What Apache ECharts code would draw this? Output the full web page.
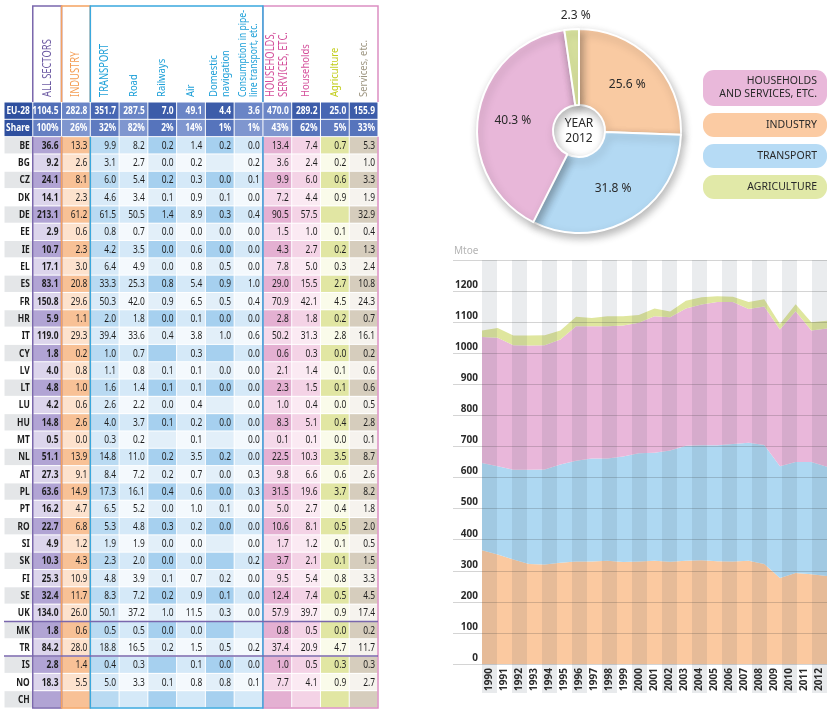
<!DOCTYPE html>
<html><head><meta charset="utf-8">
<script src="https://cdn.jsdelivr.net/npm/echarts@6/dist/echarts.min.js"></script>
<style>html,body{margin:0;padding:0;background:#fff}#c{width:833px;height:713px}</style>
</head><body><div id="c"></div>
<script>
// ---------------- DATA ----------------
const tableHeaders = ['', 'ALL SECTORS', 'INDUSTRY', 'TRANSPORT', 'Road', 'Railways', 'Air', 'Domestic\nnavigation', 'Consumption in pipe-\nline transport, etc.', 'HOUSEHOLDS,\nSERVICES, ETC.', 'Households', 'Agriculture', 'Services, etc.'];
const rowCodes = ['EU-28','Share','BE','BG','CZ','DK','DE','EE','IE','EL','ES','FR','HR','IT','CY','LV','LT','LU','HU','MT','NL','AT','PL','PT','RO','SI','SK','FI','SE','UK','MK','TR','IS','NO','CH'];
const eu28Values = [1104.5, 282.8, 351.7, 287.5, 7.0, 49.1, 4.4, 3.6, 470.0, 289.2, 25.0, 155.9];
const shareValues = [100, 26, 32, 82, 2, 14, 1, 1, 43, 62, 5, 33];
const countryValues = [
  [36.6, 13.3, 9.9, 8.2, 0.2, 1.4, 0.2, 0.0, 13.4, 7.4, 0.7, 5.3],
  [9.2, 2.6, 3.1, 2.7, 0.0, 0.2, null, 0.2, 3.6, 2.4, 0.2, 1.0],
  [24.1, 8.1, 6.0, 5.4, 0.2, 0.3, 0.0, 0.1, 9.9, 6.0, 0.6, 3.3],
  [14.1, 2.3, 4.6, 3.4, 0.1, 0.9, 0.1, 0.0, 7.2, 4.4, 0.9, 1.9],
  [213.1, 61.2, 61.5, 50.5, 1.4, 8.9, 0.3, 0.4, 90.5, 57.5, null, 32.9],
  [2.9, 0.6, 0.8, 0.7, 0.0, 0.0, 0.0, 0.0, 1.5, 1.0, 0.1, 0.4],
  [10.7, 2.3, 4.2, 3.5, 0.0, 0.6, 0.0, 0.0, 4.3, 2.7, 0.2, 1.3],
  [17.1, 3.0, 6.4, 4.9, 0.0, 0.8, 0.5, 0.0, 7.8, 5.0, 0.3, 2.4],
  [83.1, 20.8, 33.3, 25.3, 0.8, 5.4, 0.9, 1.0, 29.0, 15.5, 2.7, 10.8],
  [150.8, 29.6, 50.3, 42.0, 0.9, 6.5, 0.5, 0.4, 70.9, 42.1, 4.5, 24.3],
  [5.9, 1.1, 2.0, 1.8, 0.0, 0.1, 0.0, 0.0, 2.8, 1.8, 0.2, 0.7],
  [119.0, 29.3, 39.4, 33.6, 0.4, 3.8, 1.0, 0.6, 50.2, 31.3, 2.8, 16.1],
  [1.8, 0.2, 1.0, 0.7, null, 0.3, null, 0.0, 0.6, 0.3, 0.0, 0.2],
  [4.0, 0.8, 1.1, 0.8, 0.1, 0.1, 0.0, 0.0, 2.1, 1.4, 0.1, 0.6],
  [4.8, 1.0, 1.6, 1.4, 0.1, 0.1, 0.0, 0.0, 2.3, 1.5, 0.1, 0.6],
  [4.2, 0.6, 2.6, 2.2, 0.0, 0.4, null, 0.0, 1.0, 0.4, 0.0, 0.5],
  [14.8, 2.6, 4.0, 3.7, 0.1, 0.2, 0.0, 0.0, 8.3, 5.1, 0.4, 2.8],
  [0.5, 0.0, 0.3, 0.2, null, 0.1, null, 0.0, 0.1, 0.1, 0.0, 0.1],
  [51.1, 13.9, 14.8, 11.0, 0.2, 3.5, 0.2, 0.0, 22.5, 10.3, 3.5, 8.7],
  [27.3, 9.1, 8.4, 7.2, 0.2, 0.7, 0.0, 0.3, 9.8, 6.6, 0.6, 2.6],
  [63.6, 14.9, 17.3, 16.1, 0.4, 0.6, 0.0, 0.3, 31.5, 19.6, 3.7, 8.2],
  [16.2, 4.7, 6.5, 5.2, 0.0, 1.0, 0.1, 0.0, 5.0, 2.7, 0.4, 1.8],
  [22.7, 6.8, 5.3, 4.8, 0.3, 0.2, 0.0, 0.0, 10.6, 8.1, 0.5, 2.0],
  [4.9, 1.2, 1.9, 1.9, 0.0, 0.0, null, 0.0, 1.7, 1.2, 0.1, 0.5],
  [10.3, 4.3, 2.3, 2.0, 0.0, 0.0, null, 0.2, 3.7, 2.1, 0.1, 1.5],
  [25.3, 10.9, 4.8, 3.9, 0.1, 0.7, 0.2, 0.0, 9.5, 5.4, 0.8, 3.3],
  [32.4, 11.7, 8.3, 7.2, 0.2, 0.9, 0.1, 0.0, 12.4, 7.4, 0.5, 4.5],
  [134.0, 26.0, 50.1, 37.2, 1.0, 11.5, 0.3, 0.0, 57.9, 39.7, 0.9, 17.4],
  [1.8, 0.6, 0.5, 0.5, 0.0, 0.0, null, null, 0.8, 0.5, 0.0, 0.2],
  [84.2, 28.0, 18.8, 16.5, 0.2, 1.5, 0.5, 0.2, 37.4, 20.9, 4.7, 11.7],
  [2.8, 1.4, 0.4, 0.3, null, 0.1, 0.0, 0.0, 1.0, 0.5, 0.3, 0.3],
  [18.3, 5.5, 5.0, 3.3, 0.1, 0.8, 0.8, 0.1, 7.7, 4.1, 0.9, 2.7],
  [null, null, null, null, null, null, null, null, null, null, null, null]
];
const separatorAfter = ['UK', 'TR'];

const pieNames = ['INDUSTRY', 'TRANSPORT', 'HOUSEHOLDS AND SERVICES, ETC.', 'AGRICULTURE'];
const pieValues = [25.6, 31.8, 40.3, 2.3];
const legendNames = ['HOUSEHOLDS\nAND SERVICES, ETC.', 'INDUSTRY', 'TRANSPORT', 'AGRICULTURE'];

const years = [1990,1991,1992,1993,1994,1995,1996,1997,1998,1999,2000,2001,2002,2003,2004,2005,2006,2007,2008,2009,2010,2011,2012];
const industry = [366, 352, 336, 322, 320, 326, 330, 330, 332, 328, 330, 332, 329, 332, 334, 331, 330, 332, 322, 277, 293, 289, 282.8];
const transport = [281, 284, 289, 303, 306, 316, 324, 331, 329, 340, 348, 348, 358, 370, 370, 373, 378, 380, 383, 359, 357, 361, 351.7];
const householdsServices = [405, 414, 401, 400, 400, 402, 433, 426, 426, 421, 420, 439, 429, 442, 453, 461, 457, 430, 445, 440, 485, 423, 445.0];
const agriculture = [21, 31, 31, 32, 32, 29, 30, 26, 32, 30, 25, 25, 18, 25, 23, 18, 17, 23, 24, 18, 23, 27, 25.0];

// ---------------- STYLE ----------------
const SANS = "'Noto Sans','Open Sans',sans-serif";
const colDark  = ['#e4e6e8','#b1a4d4','#f8c196','#b9daf2','#d5e9f8','#a6d0ef','#d5e9f8','#a6d0ef','#d5e9f8','#e4b0d2','#f4d3e6','#e1e6a3','#d6cdbd'];
const colLight = ['#ffffff','#dcd5ec','#fde2cd','#d8eaf8','#f4f9fd','#e2eff9','#f4f9fd','#e2eff9','#f4f9fd','#f5d9ea','#fbeaf3','#fafbea','#f6f3ee'];
const colEU    = ['#2f509f','#4f6db7','#6a85c6','#4766b3','#6a85c6','#3c5ca9','#6a85c6','#3c5ca9','#6a85c6','#6a85c6','#3c5ca9','#4766b3','#3c5ca9'];
const colShare = ['#2f509f','#6680c3','#7f96cf','#5f7bc0','#7f96cf','#5674bc','#7f96cf','#5674bc','#7f96cf','#7f96cf','#5674bc','#5f7bc0','#5674bc'];
const headerColors = ['#333','#6d5ba3','#f49c52','#1ea0d8','#1ea0d8','#1ea0d8','#1ea0d8','#1ea0d8','#1ea0d8','#d4509b','#d4509b','#c2cd1c','#9e9682'];
const groupBoxes = [
  {from:9, to:12, color:'#dc8fc2'},
  {from:1, to:1, color:'#7a67ad'},
  {from:2, to:2, color:'#f5a260'},
  {from:3, to:8, color:'#3aa8de'}
];
const pieColors = ['#f9caa2','#b3d9f3','#e8b7d9','#dde7a2'];
const legendColors = ['#e9b8da','#fbcba3','#b6dbf5','#e1e9a8'];
const areaColors = ['#fbc9a0','#aed8f2','#e9b7da','#dfe69e'];

// ---------------- BUILD ----------------
function cellText(r, c) {
  if (c === 0) return rowCodes[r];
  if (r === 0) return eu28Values[c-1].toFixed(1);
  if (r === 1) return shareValues[c-1] + '%';
  const v = countryValues[r-2][c-1];
  return v == null ? '' : v.toFixed(1);
}
const cells = [];
for (let r = 0; r < rowCodes.length; r++) for (let c = 0; c < tableHeaders.length; c++) cells.push({value:[c, r], txt: cellText(r, c)});
const headerItems = tableHeaders.map((h, c) => [c, 0]).filter(d => d[0] > 0);

const chart = echarts.init(document.getElementById('c'), null, {renderer:'canvas'});
const lastRow = rowCodes.length - 1;

const option = {
  animation: false,
  backgroundColor: '#fff',
  grid: [
    {left: 482, right: 6, top: 260, height: 404, outerBoundsMode: 'none'},
    {left: 453, right: 6, top: 260, height: 404, outerBoundsMode: 'none'},
    {left: 482, right: 6, top: 664, height: 29, outerBoundsMode: 'none'},
    {left: 4, top: 102, width: 374, height: 606, outerBoundsMode: 'none'}
  ],
  xAxis: [
    {type:'category', gridIndex:0, data: years, boundaryGap:true, z: 10,
     axisLine:{show:false}, axisTick:{show:false}, splitLine:{show:false},
     axisLabel:{rotate:90, interval:0, margin:4, fontSize:10, fontWeight:'bold', color:'#2a2a2a', fontFamily:SANS}},
    {type:'category', gridIndex:0, data: years, boundaryGap:false, show:false},
    {type:'value', gridIndex:1, min:0, max:1, show:false},
    {type:'category', gridIndex:2, data: years, show:false},
    {type:'category', gridIndex:3, data: tableHeaders, position:'top', show:false}
  ],
  yAxis: [
    {type:'value', gridIndex:0, min:0, max:1300, interval:100,
     axisLine:{show:false}, axisTick:{show:false}, splitLine:{show:false},
     axisLabel:{margin:4, fontSize:10, fontWeight:'bold', color:'#2a2a2a', fontFamily:SANS, verticalAlign:'bottom', padding:[0,0,1,0], showMaxLabel:false,
       formatter: (v) => String(v)}},
    {type:'value', gridIndex:1, min:0, max:1300, interval:100, z: 10,
     axisLine:{show:false}, axisTick:{show:false}, axisLabel:{show:false},
     splitLine:{show:true, lineStyle:{color:'rgba(60,60,60,0.22)', width:1}}},
    {type:'value', gridIndex:2, min:0, max:1, show:false},
    {type:'category', gridIndex:3, data: rowCodes, inverse:true, show:false}
  ],
  graphic: [
    {type:'text', left: 454, top: 246, style:{text:'Mtoe', fill:'#b4b4b4', font:'10px ' + SANS}},
    {type:'text', x: 579, y: 131, z: 10, style:{text:'YEAR\n2012', fill:'#2a2a2a', font:'12px ' + SANS, align:'center', verticalAlign:'middle', lineHeight:15}}
  ].concat(legendNames.map((n, i) => {
    const tops = [70, 113, 144, 175];
    const hs = [36, 24, 24, 24];
    return {type:'group', children:[
      {type:'rect', shape:{x:703, y:tops[i], width:124, height:hs[i], r:11}, style:{fill:legendColors[i]}},
      {type:'text', style:{x:817, y:tops[i] + hs[i]/2, text:n, align:'right', verticalAlign:'middle', fill:'#2a2a2a', font:'10.5px ' + SANS, lineHeight:13}}
    ]};
  })),
  series: [
    {name:'Industry', type:'line', xAxisIndex:1, yAxisIndex:0, stack:'e', symbol:'none', silent:true,
     data: industry, lineStyle:{width:0}, itemStyle:{color:areaColors[0]}, areaStyle:{color:areaColors[0], opacity:1}},
    {name:'Transport', type:'line', xAxisIndex:1, yAxisIndex:0, stack:'e', symbol:'none', silent:true,
     data: transport, lineStyle:{width:0}, itemStyle:{color:areaColors[1]}, areaStyle:{color:areaColors[1], opacity:1}},
    {name:'Households and services', type:'line', xAxisIndex:1, yAxisIndex:0, stack:'e', symbol:'none', silent:true,
     data: householdsServices, lineStyle:{width:0}, itemStyle:{color:areaColors[2]}, areaStyle:{color:areaColors[2], opacity:1}},
    {name:'Agriculture', type:'line', xAxisIndex:1, yAxisIndex:0, stack:'e', symbol:'none', silent:true,
     data: agriculture, lineStyle:{width:0}, itemStyle:{color:areaColors[3]}, areaStyle:{color:areaColors[3], opacity:1}},
    {type:'bar', xAxisIndex:0, yAxisIndex:0, barWidth:'100%', silent:true, z:3,
     data: years.map((y,i)=> i % 2 === 0 ? 1300 : '-'), itemStyle:{color:'rgba(50,70,90,0.10)'}},
    {type:'bar', xAxisIndex:3, yAxisIndex:2, barWidth:'100%', silent:true, z:3,
     data: years.map((y,i)=> i % 2 === 0 ? 1 : '-'), itemStyle:{color:'#e8eaec'}},
    {type:'pie', center:[579,131], radius:[26,102], startAngle:90, clockwise:true, silent:true,
     emphasis:{disabled:true},
     itemStyle:{borderColor:'#fff', borderWidth:2, shadowBlur:8, shadowOffsetX:2, shadowOffsetY:4, shadowColor:'rgba(0,0,0,0.28)'},
     label:{show:true, position:'inside', formatter:'{c} %', color:'#2a2a2a', fontSize:12, fontFamily:SANS},
     labelLine:{show:false},
     labelLayout: function (p) {
       if (p.dataIndex === 3) {
         return {x: p.rect.x + p.rect.width/2 + 4, y: p.rect.y - 12, align:'center', verticalAlign:'middle'};
       }
       return {};
     },
     data: pieNames.map((n,i)=>({name:n, value:pieValues[i], itemStyle:{color:pieColors[i]},
        label: i === 3 ? {position:'outside'} : undefined}))},
    // table cells
    {type:'custom', xAxisIndex:4, yAxisIndex:3, silent:true, clip:false, encode:{x:0, y:1},
     data: cells,
     renderItem: function (params, api) {
       const c = api.value(0), r = api.value(1);
       const p = api.coord([c, r]); const s = api.size([1, 1]);
       const x0 = p[0] - s[0]/2, y0 = p[1] - s[1]/2;
       const head = r < 2; const dark = !head && (r - 2) % 2 === 0;
       const fill = r === 0 ? colEU[c] : r === 1 ? colShare[c] : (dark ? colDark[c] : colLight[c]);
       const bold = head || c <= 1;
       const txt = cells[params.dataIndex].txt;
       return {type:'group', children:[
         {type:'rect', shape:{x:x0+0.5, y:y0+0.5, width:s[0]-1, height:s[1]-1}, style:{fill:fill}},
         {type:'text', x:x0+s[0]-3, y:p[1]+0.5, scaleX:0.8,
          style:{text:txt, x:0, y:0, align:'right', verticalAlign:'middle',
           fill: head ? '#ffffff' : '#1e1e1e', font:(bold ? 'bold ' : '') + '10.5px ' + SANS}}
       ]};
     }},
    // column headers (rotated)
    {type:'custom', xAxisIndex:4, yAxisIndex:3, silent:true, clip:false, encode:{x:0, y:1},
     data: headerItems,
     renderItem: function (params, api) {
       const c = api.value(0);
       const p = api.coord([c, 0]); const s = api.size([1, 1]);
       const top = p[1] - s[1]/2;
       const h = tableHeaders[c];
       const upper = h === h.toUpperCase();
       const size = h.indexOf('Consumption') === 0 ? 10 : (upper ? 12 : 11);
       return {type:'text', x: p[0], y: top - 5, rotation: Math.PI/2, scaleX: upper ? 0.78 : 0.86,
         style:{text:h, x:0, y:0, align:'left', verticalAlign:'middle', fill:headerColors[c],
           font: size + 'px ' + SANS, lineHeight: size + 1}};
     }},
    // group boxes
    {type:'custom', xAxisIndex:4, yAxisIndex:3, silent:true, clip:false, z:5, encode:{x:[0,1], y:[2,3]},
     data: groupBoxes.map(g => [g.from, g.to, 2, lastRow]),
     renderItem: function (params, api) {
       const g = groupBoxes[params.dataIndex];
       const s = api.size([1,1]);
       const left = api.coord([api.value(0), 0])[0] - s[0]/2;
       const right = api.coord([api.value(1), 0])[0] + s[0]/2;
       const tableTop = api.coord([0, 0])[1] - s[1]/2;
       const bodyTop = api.coord([0, api.value(2)])[1] - s[1]/2;
       const bottom = api.coord([0, api.value(3)])[1] + s[1]/2;
       const headerTop = 6;
       const st = {stroke:g.color, lineWidth:1.5, fill:null};
       return {type:'group', children:[
         {type:'polyline', shape:{points:[[left, tableTop],[left, headerTop],[right, headerTop],[right, tableTop]]}, style:st},
         {type:'polyline', shape:{points:[[left, bodyTop],[left, bottom],[right, bottom],[right, bodyTop]]}, style:st}
       ]};
     }},
    // separators
    {type:'custom', xAxisIndex:4, yAxisIndex:3, silent:true, clip:false, z:6, encode:{x:[0,1], y:2},
     data: separatorAfter.map(code => [0, tableHeaders.length-1, rowCodes.indexOf(code)]),
     renderItem: function (params, api) {
       const s = api.size([1,1]);
       const left = api.coord([api.value(0), 0])[0] - s[0]/2;
       const right = api.coord([api.value(1), 0])[0] + s[0]/2;
       const y = api.coord([0, api.value(2)])[1] + s[1]/2;
       return {type:'line', shape:{x1:left, y1:y, x2:right, y2:y}, style:{stroke:'#7a67ad', lineWidth:1.5}};
     }}
  ]
};
chart.setOption(option);
</script></body></html>
